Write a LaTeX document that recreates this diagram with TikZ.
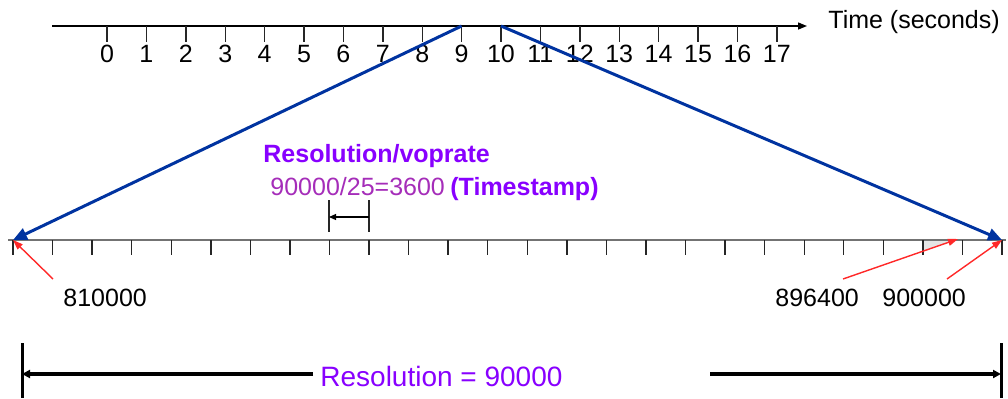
\documentclass[tikz,border=0pt]{standalone}
\usepackage{fontspec}
\setmainfont{Liberation Sans}
\usetikzlibrary{arrows.meta,calc}
\definecolor{tsblue}{RGB}{0,51,160}
\definecolor{tsviolet}{RGB}{136,0,255}
\definecolor{tsplum}{RGB}{165,45,185}
\definecolor{tsred}{RGB}{255,40,40}
\tikzset{
  secline/.style={line width=0.7pt, -{Triangle[length=4.5pt,width=3.5pt]}},
  tickmark/.style={line width=0.7pt, black!85},
  tsline/.style={line width=1.3pt, black!55},
  mapline/.style={draw=tsblue, line width=1.5pt, -{Triangle[length=7pt,width=6pt]}},
  ptr/.style={draw=tsred, line width=0.7pt, -{Triangle[length=5pt,width=3.5pt]}},
  steparrow/.style={line width=0.6pt, -{Triangle[length=3.5pt,width=3pt]}},
  dimline/.style={line width=2pt, -{Triangle[length=4pt,width=4pt]}},
  dimbar/.style={line width=1.5pt},
  lbl/.style={inner sep=0pt, font=\fontsize{12.5}{14}\selectfont},
  boldlbl/.style={inner sep=0pt, text=tsviolet, font=\fontsize{12.5}{14}\selectfont\bfseries},
}

\begin{document}
\begin{tikzpicture}[x=0.5pt,y=-0.5pt]
  \useasboundingbox (0,0) rectangle (1008,398);

  % time axis in seconds
  \coordinate (ts) at (52,26);
  \coordinate (te) at (807,26);
  \draw[secline] (ts) -- (te);
  \node[lbl, anchor=base west] (tlabel) at (828,28) {Time (seconds)};
  \foreach \s in {0,...,17} {
    \coordinate (t\s) at (107+39.4*\s,26);
    \draw[tickmark] (t\s) -- ++(0,16);
    \node[lbl] (n\s) at (107+39.4*\s,54) {\s};
  }

  % timestamp axis
  \foreach \k in {0,...,25} {
    \coordinate (b\k) at (13+39.56*\k,240);
  }
  \coordinate (bs) at (8,240);
  \coordinate (be) at (1006,240);
  \coordinate (b24l) at (958,239);
  \fill[black!10] (b23) -- ($(b23)+(0,11)$) -- (b24l) -- cycle;
  \draw[tsline] (bs) -- (be);
  \foreach \k in {0,...,25} {
    \draw[tickmark] (b\k) -- ++(0,15);
  }

  % one second mapped onto the timestamp axis
  \draw[mapline] (t9) -- (b0);
  \draw[mapline] (t10) -- (b25);

  % values under the axis
  \node[lbl, anchor=base west] (v810) at (63,306) {810000};
  \node[lbl, anchor=base west] (v896) at (775,306) {896400};
  \node[lbl, anchor=base west] (v900) at (882,306) {900000};
  \coordinate (p810) at (53,279);
  \coordinate (p896) at (843,279);
  \coordinate (p900) at (947,279);
  \draw[ptr] (p810) -- (b0);
  \draw[ptr] (p896) -- (b24l);
  \draw[ptr] (p900) -- (b25);

  % one frame step
  \coordinate (fa) at (329,200);
  \coordinate (fb) at (369,200);
  \draw[tickmark] (fa) -- ++(0,32);
  \draw[tickmark] (fb) -- ++(0,32);
  \coordinate (fam) at (329,217);
  \coordinate (fbm) at (369,217);
  \draw[steparrow] (fbm) -- (fam);
  \node[boldlbl, anchor=base west] (rvlabel) at (263,162) {Resolution/voprate};
  \node[lbl, text=tsplum, anchor=base west] (tsval) at (270,195) {90000/25=3600};
  \node[boldlbl, anchor=base west] (tsname) at (450,195) {(Timestamp)};

  % whole second
  \coordinate (dlt) at (22,343);
  \coordinate (dlb) at (22,398);
  \coordinate (drt) at (1001,343);
  \coordinate (drb) at (1001,398);
  \draw[dimbar] (dlt) -- (dlb);
  \draw[dimbar] (drt) -- (drb);
  \coordinate (dl) at (22,374);
  \coordinate (dr) at (1001,374);
  \coordinate (dla) at (313,374);
  \coordinate (dra) at (710,374);
  \draw[dimline] (dla) -- (dl);
  \draw[dimline] (dra) -- (dr);
  \node[lbl, text=tsviolet, font=\fontsize{14}{16}\selectfont, anchor=base west] (reslabel) at (320,386) {Resolution = 90000};
\end{tikzpicture}
\end{document}
